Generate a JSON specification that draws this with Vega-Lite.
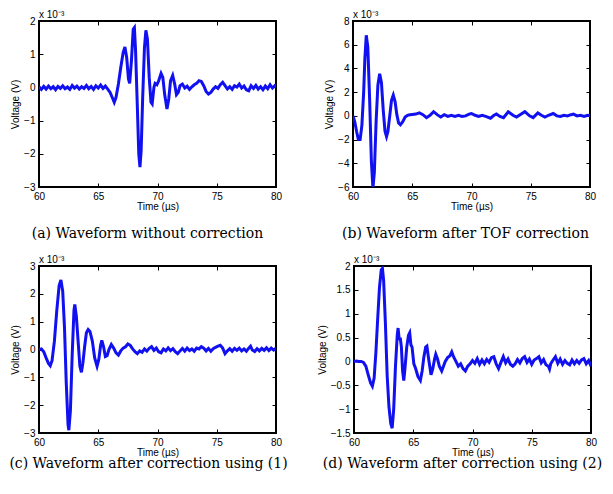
{
  "$schema": "https://vega.github.io/schema/vega-lite/v6.json",
  "background": "white",
  "padding": {"left": 8, "top": 9, "right": 0, "bottom": 0},
  "config": {
    "view": {"stroke": "black", "strokeWidth": 2},
    "axis": {"domain": false, "grid": false, "tickColor": "black", "tickSize": -4, "tickWidth": 1,
      "labelFont": "Liberation Sans", "labelFontSize": 10, "labelColor": "black", "labelPadding": 8,
      "labelFlush": false, "labelOverlap": false,
      "titleFont": "Liberation Sans", "titleFontSize": 10, "titleFontWeight": "normal", "titleColor": "black"},
    "axisX": {"titlePadding": 0},
    "axisY": {"titlePadding": 3},
    "title": {"font": "DejaVu Serif", "fontSize": 14, "fontWeight": "normal", "color": "black", "offset": 16},
    "text": {"font": "Liberation Sans", "fontSize": 10, "color": "black"}
  },
  "datasets": {
    "a": [
      {"t":60.0,"v":0.02},{"t":60.2,"v":-0.06},{"t":60.4,"v":0.03},{"t":60.6,"v":-0.05},{"t":60.8,"v":0.04},{"t":61.0,"v":-0.04},{"t":61.2,"v":0.02},{"t":61.4,"v":-0.07},{"t":61.6,"v":0.03},{"t":61.8,"v":-0.03},
      {"t":62.0,"v":0.05},{"t":62.2,"v":-0.04},{"t":62.4,"v":0.01},{"t":62.6,"v":-0.06},{"t":62.8,"v":0.06},{"t":63.0,"v":-0.02},{"t":63.2,"v":0.04},{"t":63.4,"v":-0.05},{"t":63.6,"v":0.02},{"t":63.8,"v":-0.03},
      {"t":64.0,"v":0.06},{"t":64.2,"v":-0.04},{"t":64.4,"v":0.03},{"t":64.6,"v":-0.06},{"t":64.8,"v":0.05},{"t":65.0,"v":-0.02},{"t":65.2,"v":0.07},{"t":65.4,"v":-0.03},{"t":65.6,"v":0.04},{"t":65.8,"v":-0.05},
      {"t":66.0,"v":-0.15},{"t":66.2,"v":-0.32},{"t":66.35,"v":-0.45},{"t":66.5,"v":-0.3},{"t":66.7,"v":0.1},{"t":66.9,"v":0.6},{"t":67.1,"v":1.05},{"t":67.25,"v":1.22},{"t":67.4,"v":0.9},{"t":67.55,"v":0.25},
      {"t":67.65,"v":0.12},{"t":67.8,"v":0.8},{"t":67.95,"v":1.75},{"t":68.05,"v":1.8},{"t":68.15,"v":1.1},{"t":68.3,"v":-0.6},{"t":68.42,"v":-2.0},{"t":68.52,"v":-2.4},{"t":68.62,"v":-1.9},{"t":68.75,"v":-0.3},
      {"t":68.9,"v":1.2},{"t":69.02,"v":1.72},{"t":69.15,"v":1.45},{"t":69.3,"v":0.3},{"t":69.45,"v":-0.45},{"t":69.55,"v":-0.5},{"t":69.7,"v":0.0},{"t":69.8,"v":0.12},{"t":69.95,"v":0.08},{"t":70.1,"v":0.2},
      {"t":70.3,"v":0.42},{"t":70.45,"v":0.3},{"t":70.6,"v":-0.2},{"t":70.8,"v":-0.65},{"t":70.95,"v":-0.35},{"t":71.1,"v":0.2},{"t":71.28,"v":0.36},{"t":71.45,"v":0.1},{"t":71.6,"v":-0.22},{"t":71.75,"v":-0.15},
      {"t":71.9,"v":0.05},{"t":72.1,"v":0.1},{"t":72.3,"v":-0.02},{"t":72.5,"v":0.04},{"t":72.7,"v":-0.06},{"t":72.9,"v":0.02},{"t":73.1,"v":0.08},{"t":73.3,"v":0.12},{"t":73.5,"v":0.2},{"t":73.7,"v":0.18},
      {"t":73.9,"v":0.05},{"t":74.1,"v":-0.12},{"t":74.3,"v":-0.2},{"t":74.5,"v":-0.15},{"t":74.7,"v":-0.05},{"t":74.9,"v":0.02},{"t":75.1,"v":-0.03},{"t":75.3,"v":0.08},{"t":75.5,"v":0.15},{"t":75.7,"v":0.05},
      {"t":75.9,"v":-0.05},{"t":76.1,"v":0.02},{"t":76.3,"v":-0.06},{"t":76.5,"v":0.05},{"t":76.7,"v":0.01},{"t":76.9,"v":0.1},{"t":77.1,"v":-0.02},{"t":77.3,"v":0.04},{"t":77.5,"v":-0.07},{"t":77.7,"v":-0.1},
      {"t":77.9,"v":0.05},{"t":78.1,"v":-0.03},{"t":78.3,"v":0.06},{"t":78.5,"v":-0.05},{"t":78.7,"v":0.02},{"t":78.9,"v":-0.07},{"t":79.1,"v":0.04},{"t":79.3,"v":-0.04},{"t":79.5,"v":0.08},{"t":79.7,"v":-0.02},
      {"t":79.9,"v":0.05},{"t":80.0,"v":0.0}
    ],
    "b": [
      {"t":60.0,"v":0.0},{"t":60.15,"v":-0.5},{"t":60.3,"v":-1.3},{"t":60.45,"v":-2.0},{"t":60.6,"v":-2.0},{"t":60.75,"v":-0.8},{"t":60.9,"v":2.0},{"t":61.0,"v":4.8},{"t":61.12,"v":6.8},{"t":61.25,"v":5.8},
      {"t":61.4,"v":1.5},{"t":61.55,"v":-3.8},{"t":61.68,"v":-6.1},{"t":61.8,"v":-4.8},{"t":61.95,"v":-0.5},{"t":62.1,"v":2.6},{"t":62.25,"v":3.55},{"t":62.4,"v":2.8},{"t":62.55,"v":0.5},{"t":62.7,"v":-1.3},
      {"t":62.83,"v":-1.75},{"t":62.95,"v":-1.3},{"t":63.1,"v":0.0},{"t":63.25,"v":1.3},{"t":63.4,"v":1.75},{"t":63.55,"v":1.2},{"t":63.7,"v":0.1},{"t":63.85,"v":-0.6},{"t":64.0,"v":-0.75},{"t":64.2,"v":-0.5},
      {"t":64.4,"v":-0.1},{"t":64.6,"v":0.05},{"t":64.8,"v":0.1},{"t":65.0,"v":0.12},{"t":65.3,"v":0.15},{"t":65.6,"v":0.25},{"t":65.9,"v":0.1},{"t":66.2,"v":-0.15},{"t":66.5,"v":0.05},{"t":66.8,"v":0.35},
      {"t":67.1,"v":0.1},{"t":67.4,"v":-0.1},{"t":67.7,"v":0.1},{"t":68.0,"v":-0.05},{"t":68.3,"v":0.05},{"t":68.6,"v":-0.05},{"t":68.9,"v":0.05},{"t":69.2,"v":-0.05},{"t":69.5,"v":0.0},{"t":69.8,"v":0.15},
      {"t":70.0,"v":0.2},{"t":70.3,"v":0.05},{"t":70.6,"v":-0.05},{"t":70.9,"v":0.05},{"t":71.2,"v":-0.05},{"t":71.6,"v":-0.2},{"t":71.9,"v":0.05},{"t":72.1,"v":0.15},{"t":72.4,"v":-0.05},{"t":72.7,"v":-0.15},
      {"t":73.1,"v":0.35},{"t":73.5,"v":0.05},{"t":73.8,"v":-0.1},{"t":74.1,"v":0.1},{"t":74.5,"v":0.35},{"t":74.9,"v":0.0},{"t":75.2,"v":-0.15},{"t":75.6,"v":0.25},{"t":75.9,"v":0.05},{"t":76.2,"v":-0.1},
      {"t":76.5,"v":0.05},{"t":76.9,"v":0.2},{"t":77.2,"v":0.0},{"t":77.5,"v":-0.05},{"t":77.8,"v":0.05},{"t":78.1,"v":0.0},{"t":78.4,"v":0.1},{"t":78.6,"v":0.15},{"t":78.9,"v":0.0},{"t":79.2,"v":0.05},
      {"t":79.5,"v":-0.05},{"t":79.8,"v":0.05},{"t":80.0,"v":0.0}
    ],
    "c": [
      {"t":60.0,"v":0.0},{"t":60.2,"v":0.02},{"t":60.4,"v":-0.08},{"t":60.6,"v":-0.3},{"t":60.8,"v":-0.5},{"t":60.95,"v":-0.58},{"t":61.1,"v":-0.4},{"t":61.3,"v":0.3},{"t":61.5,"v":1.4},{"t":61.7,"v":2.3},
      {"t":61.85,"v":2.5},{"t":62.0,"v":2.1},{"t":62.15,"v":0.8},{"t":62.3,"v":-1.2},{"t":62.45,"v":-2.7},{"t":62.52,"v":-2.9},{"t":62.65,"v":-2.2},{"t":62.8,"v":-0.2},{"t":62.95,"v":1.4},{"t":63.02,"v":1.62},
      {"t":63.15,"v":1.2},{"t":63.3,"v":0.3},{"t":63.45,"v":-0.6},{"t":63.58,"v":-0.82},{"t":63.7,"v":-0.5},{"t":63.85,"v":0.1},{"t":64.0,"v":0.6},{"t":64.15,"v":0.72},{"t":64.3,"v":0.65},{"t":64.5,"v":0.3},
      {"t":64.7,"v":-0.3},{"t":64.9,"v":-0.6},{"t":65.05,"v":-0.35},{"t":65.2,"v":0.15},{"t":65.3,"v":0.33},{"t":65.45,"v":0.1},{"t":65.6,"v":-0.25},{"t":65.75,"v":-0.22},{"t":65.9,"v":0.0},{"t":66.1,"v":0.18},
      {"t":66.3,"v":0.05},{"t":66.5,"v":-0.12},{"t":66.7,"v":-0.2},{"t":66.9,"v":-0.05},{"t":67.1,"v":0.05},{"t":67.3,"v":0.1},{"t":67.5,"v":0.2},{"t":67.7,"v":0.15},{"t":67.9,"v":0.02},{"t":68.1,"v":-0.08},
      {"t":68.3,"v":-0.15},{"t":68.5,"v":-0.05},{"t":68.7,"v":-0.1},{"t":68.9,"v":0.02},{"t":69.1,"v":-0.06},{"t":69.3,"v":0.04},{"t":69.5,"v":0.1},{"t":69.7,"v":-0.03},{"t":69.9,"v":0.05},{"t":70.1,"v":-0.08},
      {"t":70.3,"v":-0.12},{"t":70.5,"v":0.02},{"t":70.7,"v":-0.05},{"t":70.9,"v":0.06},{"t":71.1,"v":-0.04},{"t":71.3,"v":0.03},{"t":71.5,"v":-0.08},{"t":71.7,"v":-0.15},{"t":71.9,"v":-0.05},{"t":72.1,"v":0.04},
      {"t":72.3,"v":-0.06},{"t":72.5,"v":0.05},{"t":72.7,"v":-0.04},{"t":72.9,"v":0.02},{"t":73.1,"v":-0.06},{"t":73.3,"v":0.05},{"t":73.5,"v":0.02},{"t":73.7,"v":0.1},{"t":73.9,"v":0.05},{"t":74.1,"v":-0.05},
      {"t":74.3,"v":0.04},{"t":74.5,"v":-0.06},{"t":74.7,"v":0.03},{"t":74.9,"v":0.08},{"t":75.1,"v":0.12},{"t":75.3,"v":0.15},{"t":75.5,"v":0.05},{"t":75.7,"v":-0.15},{"t":75.9,"v":-0.05},{"t":76.1,"v":0.03},
      {"t":76.3,"v":-0.06},{"t":76.5,"v":0.04},{"t":76.7,"v":-0.03},{"t":76.9,"v":0.05},{"t":77.1,"v":-0.05},{"t":77.3,"v":0.02},{"t":77.5,"v":-0.06},{"t":77.7,"v":0.05},{"t":77.85,"v":0.12},{"t":78.0,"v":-0.02},
      {"t":78.2,"v":-0.07},{"t":78.4,"v":0.03},{"t":78.6,"v":-0.05},{"t":78.8,"v":0.04},{"t":79.0,"v":-0.03},{"t":79.2,"v":0.06},{"t":79.4,"v":-0.04},{"t":79.6,"v":0.05},{"t":79.8,"v":-0.02},{"t":80.0,"v":0.05}
    ],
    "d": [
      {"t":60.0,"v":0.0},{"t":60.2,"v":0.01},{"t":60.4,"v":0.0},{"t":60.6,"v":0.0},{"t":60.8,"v":-0.02},{"t":61.0,"v":-0.1},{"t":61.2,"v":-0.28},{"t":61.4,"v":-0.45},{"t":61.55,"v":-0.52},{"t":61.7,"v":-0.35},
      {"t":61.85,"v":0.2},{"t":62.0,"v":0.9},{"t":62.15,"v":1.55},{"t":62.3,"v":1.92},{"t":62.4,"v":1.95},{"t":62.5,"v":1.7},{"t":62.65,"v":0.8},{"t":62.8,"v":-0.3},{"t":62.95,"v":-0.95},{"t":63.1,"v":-1.3},
      {"t":63.22,"v":-1.4},{"t":63.35,"v":-1.0},{"t":63.5,"v":-0.1},{"t":63.65,"v":0.55},{"t":63.72,"v":0.7},{"t":63.82,"v":0.45},{"t":63.9,"v":0.5},{"t":64.0,"v":0.3},{"t":64.1,"v":-0.2},{"t":64.2,"v":-0.4},
      {"t":64.3,"v":-0.15},{"t":64.45,"v":0.3},{"t":64.6,"v":0.55},{"t":64.7,"v":0.6},{"t":64.8,"v":0.35},{"t":64.9,"v":0.3},{"t":65.05,"v":-0.05},{"t":65.2,"v":-0.15},{"t":65.4,"v":-0.32},{"t":65.6,"v":-0.4},
      {"t":65.75,"v":-0.2},{"t":65.9,"v":0.1},{"t":66.05,"v":0.3},{"t":66.15,"v":0.32},{"t":66.3,"v":0.05},{"t":66.5,"v":-0.28},{"t":66.65,"v":-0.15},{"t":66.8,"v":0.05},{"t":66.9,"v":0.15},{"t":67.05,"v":0.05},
      {"t":67.2,"v":-0.1},{"t":67.4,"v":-0.2},{"t":67.55,"v":-0.1},{"t":67.7,"v":0.0},{"t":67.9,"v":0.08},{"t":68.1,"v":0.12},{"t":68.25,"v":0.2},{"t":68.4,"v":0.1},{"t":68.6,"v":0.0},{"t":68.8,"v":-0.1},
      {"t":69.0,"v":-0.05},{"t":69.2,"v":-0.15},{"t":69.4,"v":-0.2},{"t":69.6,"v":-0.1},{"t":69.8,"v":-0.05},{"t":70.0,"v":0.02},{"t":70.2,"v":-0.04},{"t":70.4,"v":0.06},{"t":70.6,"v":-0.06},{"t":70.8,"v":0.03},
      {"t":71.0,"v":-0.05},{"t":71.2,"v":0.04},{"t":71.4,"v":-0.02},{"t":71.6,"v":0.08},{"t":71.8,"v":0.1},{"t":72.0,"v":-0.05},{"t":72.2,"v":-0.15},{"t":72.4,"v":-0.02},{"t":72.6,"v":0.1},{"t":72.8,"v":-0.03},
      {"t":73.0,"v":0.05},{"t":73.2,"v":-0.06},{"t":73.4,"v":-0.1},{"t":73.6,"v":-0.05},{"t":73.8,"v":0.04},{"t":74.0,"v":-0.03},{"t":74.2,"v":0.06},{"t":74.4,"v":0.1},{"t":74.6,"v":-0.02},{"t":74.8,"v":0.05},
      {"t":75.0,"v":-0.06},{"t":75.2,"v":0.03},{"t":75.4,"v":0.06},{"t":75.6,"v":0.1},{"t":75.8,"v":-0.03},{"t":76.0,"v":0.04},{"t":76.2,"v":-0.07},{"t":76.4,"v":-0.1},{"t":76.5,"v":-0.16},{"t":76.6,"v":-0.05},
      {"t":76.8,"v":0.03},{"t":77.0,"v":0.1},{"t":77.2,"v":-0.04},{"t":77.4,"v":0.05},{"t":77.6,"v":-0.06},{"t":77.8,"v":0.02},{"t":78.0,"v":-0.04},{"t":78.2,"v":-0.07},{"t":78.4,"v":0.03},{"t":78.6,"v":-0.05},
      {"t":78.8,"v":0.02},{"t":79.0,"v":-0.04},{"t":79.2,"v":0.03},{"t":79.4,"v":0.06},{"t":79.6,"v":-0.05},{"t":79.8,"v":0.02},{"t":80.0,"v":-0.1}
    ]
  },
  "spacing": 12,
  "vconcat": [
    {
      "spacing": 40,
      "hconcat": [
        {
          "width": 237, "height": 166,
          "title": {"text": "(a) Waveform without correction", "orient": "bottom", "dx": -10},
          "resolve": {"axis": {"x": "independent", "y": "independent"}},
          "layer": [
            {"data": {"name": "a"}, "mark": {"type": "line", "color": "#1010f0", "strokeWidth": 3, "clip": true},
             "encoding": {
               "x": {"field": "t", "type": "quantitative", "scale": {"domain": [60, 80], "nice": false, "zero": false}, "axis": {"title": "Time (µs)", "values": [60, 65, 70, 75, 80]}},
               "y": {"field": "v", "type": "quantitative", "scale": {"domain": [-3, 2], "nice": false, "zero": false}, "axis": {"title": "Voltage (V)", "values": [-3, -2, -1, 0, 1, 2]}}}},
            {"data": {"values": [{"t": 60, "v": 2}]}, "mark": {"type": "text", "text": "x 10⁻³", "align": "left", "baseline": "bottom", "dy": -1},
             "encoding": {
               "x": {"field": "t", "type": "quantitative", "scale": {"domain": [60, 80], "nice": false, "zero": false}, "axis": {"orient": "top", "labels": false, "title": null, "values": [65, 70, 75]}},
               "y": {"field": "v", "type": "quantitative", "scale": {"domain": [-3, 2], "nice": false, "zero": false}, "axis": {"orient": "right", "labels": false, "title": null, "values": [-2, -1, 0, 1]}}}}
          ]
        },
        {
          "width": 237, "height": 166,
          "title": {"text": "(b) Waveform after TOF correction", "orient": "bottom", "dx": -6},
          "resolve": {"axis": {"x": "independent", "y": "independent"}},
          "layer": [
            {"data": {"name": "b"}, "mark": {"type": "line", "color": "#1010f0", "strokeWidth": 3, "clip": true},
             "encoding": {
               "x": {"field": "t", "type": "quantitative", "scale": {"domain": [60, 80], "nice": false, "zero": false}, "axis": {"title": "Time (µs)", "values": [60, 65, 70, 75, 80]}},
               "y": {"field": "v", "type": "quantitative", "scale": {"domain": [-6, 8], "nice": false, "zero": false}, "axis": {"title": "Voltage (V)", "values": [-6, -4, -2, 0, 2, 4, 6, 8]}}}},
            {"data": {"values": [{"t": 60, "v": 8}]}, "mark": {"type": "text", "text": "x 10⁻³", "align": "left", "baseline": "bottom", "dy": -1},
             "encoding": {
               "x": {"field": "t", "type": "quantitative", "scale": {"domain": [60, 80], "nice": false, "zero": false}, "axis": {"orient": "top", "labels": false, "title": null, "values": [65, 70, 75]}},
               "y": {"field": "v", "type": "quantitative", "scale": {"domain": [-6, 8], "nice": false, "zero": false}, "axis": {"orient": "right", "labels": false, "title": null, "values": [-4, -2, 0, 2, 4, 6]}}}}
          ]
        }
      ]
    },
    {
      "spacing": 27,
      "hconcat": [
        {
          "width": 237, "height": 167,
          "title": {"text": "(c) Waveform after correction using (1)", "orient": "bottom", "offset": 0, "dx": -9},
          "resolve": {"axis": {"x": "independent", "y": "independent"}},
          "layer": [
            {"data": {"name": "c"}, "mark": {"type": "line", "color": "#1010f0", "strokeWidth": 3, "clip": true},
             "encoding": {
               "x": {"field": "t", "type": "quantitative", "scale": {"domain": [60, 80], "nice": false, "zero": false}, "axis": {"title": "Time (µs)", "values": [60, 65, 70, 75, 80]}},
               "y": {"field": "v", "type": "quantitative", "scale": {"domain": [-3, 3], "nice": false, "zero": false}, "axis": {"title": "Voltage (V)", "values": [-3, -2, -1, 0, 1, 2, 3]}}}},
            {"data": {"values": [{"t": 60, "v": 3}]}, "mark": {"type": "text", "text": "x 10⁻³", "align": "left", "baseline": "bottom", "dy": -1},
             "encoding": {
               "x": {"field": "t", "type": "quantitative", "scale": {"domain": [60, 80], "nice": false, "zero": false}, "axis": {"orient": "top", "labels": false, "title": null, "values": [65, 70, 75]}},
               "y": {"field": "v", "type": "quantitative", "scale": {"domain": [-3, 3], "nice": false, "zero": false}, "axis": {"orient": "right", "labels": false, "title": null, "values": [-2, -1, 0, 1, 2]}}}}
          ]
        },
        {
          "width": 237, "height": 167,
          "title": {"text": "(d) Waveform after correction using (2)", "orient": "bottom", "offset": 0, "dx": -10},
          "resolve": {"axis": {"x": "independent", "y": "independent"}},
          "layer": [
            {"data": {"name": "d"}, "mark": {"type": "line", "color": "#1010f0", "strokeWidth": 3, "clip": true},
             "encoding": {
               "x": {"field": "t", "type": "quantitative", "scale": {"domain": [60, 80], "nice": false, "zero": false}, "axis": {"title": "Time (µs)", "values": [60, 65, 70, 75, 80]}},
               "y": {"field": "v", "type": "quantitative", "scale": {"domain": [-1.5, 2], "nice": false, "zero": false}, "axis": {"title": "Voltage (V)", "format": "~g", "values": [-1.5, -1, -0.5, 0, 0.5, 1, 1.5, 2]}}}},
            {"data": {"values": [{"t": 60, "v": 2}]}, "mark": {"type": "text", "text": "x 10⁻³", "align": "left", "baseline": "bottom", "dy": -1},
             "encoding": {
               "x": {"field": "t", "type": "quantitative", "scale": {"domain": [60, 80], "nice": false, "zero": false}, "axis": {"orient": "top", "labels": false, "title": null, "values": [65, 70, 75]}},
               "y": {"field": "v", "type": "quantitative", "scale": {"domain": [-1.5, 2], "nice": false, "zero": false}, "axis": {"orient": "right", "labels": false, "title": null, "values": [-1, -0.5, 0, 0.5, 1, 1.5]}}}}
          ]
        }
      ]
    }
  ]
}
